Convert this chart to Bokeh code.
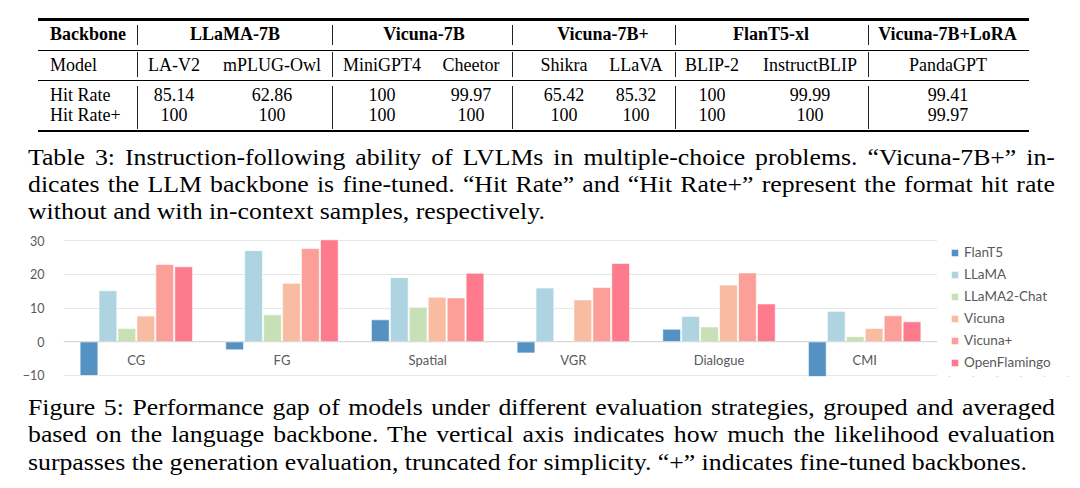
from bokeh.plotting import figure
from bokeh.models import (Range1d, FactorRange, FixedTicker, Legend, LegendItem,
                          Span, Div, ColumnDataSource)
from bokeh.layouts import column, row
from bokeh.transform import dodge
from bokeh.core.properties import value
from bokeh.embed import file_html
from bokeh.resources import INLINE

# ---------------- data ----------------
backbones = ["LLaMA-7B", "Vicuna-7B", "Vicuna-7B+", "FlanT5-xl", "Vicuna-7B+LoRA"]
models = ["LA-V2", "mPLUG-Owl", "MiniGPT4", "Cheetor", "Shikra", "LLaVA",
          "BLIP-2", "InstructBLIP", "PandaGPT"]
hit_rate = [85.14, 62.86, 100, 99.97, 65.42, 85.32, 100, 99.99, 99.41]
hit_rate_plus = [100, 100, 100, 100, 100, 100, 100, 100, 99.97]

categories = ["CG", "FG", "Spatial", "VGR", "Dialogue", "CMI"]
series_names = ["FlanT5", "LLaMA", "LLaMA2-Chat", "Vicuna", "Vicuna+", "OpenFlamingo"]
flant5 = [-10.0, -2.4, 6.5, -3.3, 3.7, -10.3]
llama = [15.1, 27.0, 19.0, 15.9, 7.5, 9.0]
llama2_chat = [3.9, 8.0, 10.2, float("nan"), 4.4, 1.5]
vicuna = [7.6, 17.3, 13.2, 12.4, 16.8, 3.9]
vicuna_plus = [22.9, 27.6, 13.0, 16.1, 20.4, 7.7]
openflamingo = [22.2, 30.2, 20.3, 23.2, 11.2, 5.9]
y_ticks = [-10, 0, 10, 20, 30]

caption1 = [
    "Table 3: Instruction-following ability of LVLMs in multiple-choice problems. \u201cVicuna-7B+\u201d in-",
    "dicates the LLM backbone is fine-tuned. \u201cHit Rate\u201d and \u201cHit Rate+\u201d represent the format hit rate",
    "without and with in-context samples, respectively.",
]
caption2 = [
    "Figure 5: Performance gap of models under different evaluation strategies, grouped and averaged",
    "based on the language backbone. The vertical axis indicates how much the likelihood evaluation",
    "surpasses the generation evaluation, truncated for simplicity. \u201c+\u201d indicates fine-tuned backbones.",
]

colors = ["#5592c4", "#aed4e2", "#c8e0b5", "#f8bca2", "#fc9f98", "#fe7b8e"]

W = 1080

# ---------------- table (HTML) ----------------
TH = 140
bb_x = [235, 424, 603, 771, 947.5]
col_x = [174, 272, 382, 471, 564, 636, 712, 810, 948]
y_head, y_model, y_hit, y_hitp = 40, 71, 101, 120.7
lab_x = 50
ASC = 15.1  # baseline offset from box top for 18px Liberation Serif, line-height 18px


def t(x, base, txt, center=True, bold=False):
    pos = f"left:{x}px;transform:translateX(-50%);" if center else f"left:{x}px;"
    fw = "bold" if bold else "normal"
    return (f'<div style="position:absolute;top:{base - ASC:.1f}px;{pos}white-space:nowrap;'
            f'font-weight:{fw};">{txt}</div>')


def rule(x, y, w, h, color="#000"):
    return (f'<div style="position:absolute;left:{x}px;top:{y:.1f}px;width:{w}px;height:{h}px;'
            f'background:{color};"></div>')


parts = [t(lab_x, y_head, "Backbone", center=False, bold=True)]
parts += [t(x, y_head, b, bold=True) for x, b in zip(bb_x, backbones)]
parts += [t(lab_x, y_model, "Model", center=False),
          t(lab_x, y_hit, "Hit Rate", center=False),
          t(lab_x, y_hitp, "Hit Rate+", center=False)]
parts += [t(x, y_model, m) for x, m in zip(col_x, models)]
parts += [t(x, y_hit, f"{v:g}") for x, v in zip(col_x, hit_rate)]
parts += [t(x, y_hitp, f"{v:g}") for x, v in zip(col_x, hit_rate_plus)]
rx0, rx1 = 38, 1029
parts += [rule(rx0, 18.4, rx1 - rx0, 2.3), rule(rx0, 49.5, rx1 - rx0, 1),
          rule(rx0, 80, rx1 - rx0, 1), rule(rx0, 129.9, rx1 - rx0, 2.3)]
for x in [137, 332, 512, 675, 868]:
    for (a, b) in [(25, 45), (52, 77), (86, 128.5)]:
        parts.append(rule(x - 0.5, a, 1, b - a, "#222"))
table_html = (f"<div style=\"position:relative;width:{W}px;height:{TH}px;overflow:hidden;"
              f"font-family:'Liberation Serif',serif;font-size:18px;line-height:18px;color:#000;\">"
              + "".join(parts) + "</div>")
table_div = Div(text=table_html, width=W, height=TH, margin=0)

SX = 1.073
FS = 24


def caption_div(lines, height, shift, lh):
    inner_w = 1027 / SX
    segs = []
    for i, ln in enumerate(lines):
        last = (i == len(lines) - 1)
        align = "text-align:left;" if last else "text-align:justify;text-align-last:justify;"
        segs.append(f'<div style="{align}white-space:nowrap;">{ln}</div>')
    html = (f'<div style="position:relative;width:{W}px;height:{height}px;overflow:hidden;">'
            f'<div style="position:absolute;left:28px;top:{shift}px;width:{inner_w:.1f}px;'
            f'transform:scaleX({SX});transform-origin:0 0;'
            f"font-family:'Liberation Serif',serif;font-size:{FS}px;line-height:{lh}px;color:#000;\">"
            + "".join(segs) + "</div></div>")
    return Div(text=html, width=W, height=height, margin=0)


div1 = caption_div(caption1, 88, 3.5, 27)

# ---------------- bar chart ----------------
CW = 63 + 874
CH = 160
p = figure(width=CW, height=CH, title=None, x_range=FactorRange(*categories),
           y_range=Range1d(-10.3, 30.3), toolbar_location=None, output_backend="svg",
           min_border_left=63, min_border_right=0, min_border_top=11, min_border_bottom=12,
           outline_line_color=None, margin=0)
p.xaxis.visible = False
p.xgrid.visible = False
p.ygrid.grid_line_color = "#e6e6e6"
p.ygrid.ticker = FixedTicker(ticks=y_ticks)
p.yaxis.ticker = FixedTicker(ticks=y_ticks)
p.yaxis.axis_line_color = None
p.yaxis.major_tick_line_color = None
p.yaxis.minor_tick_line_color = None
p.yaxis.major_label_standoff = 13
p.yaxis.major_label_text_font = "Lato"
p.yaxis.major_label_text_font_size = "12.5px"
p.yaxis.major_label_text_color = "#595959"
p.add_layout(Span(location=0, dimension="width", line_color="#d6d6d6", line_width=1))

src = ColumnDataSource(dict(cat=categories, FlanT5=flant5, LLaMA=llama,
                            LLaMA2_Chat=llama2_chat, Vicuna=vicuna,
                            Vicuna_plus=vicuna_plus, OpenFlamingo=openflamingo))
cols = ["FlanT5", "LLaMA", "LLaMA2_Chat", "Vicuna", "Vicuna_plus", "OpenFlamingo"]
slot = 0.13
for i, c in enumerate(cols):
    p.vbar(x=dodge("cat", (i - 2.5) * slot, range=p.x_range), top=c, bottom=0,
           width=0.122, source=src, fill_color=colors[i], line_color="white",
           line_alpha=0.6, line_width=1)

p.text(x=categories, y=[-5.5] * len(categories), text=categories, text_font=value("Lato"),
       text_font_size="13px", text_color="#595959", text_align="center", text_baseline="middle")

# ---------------- legend panel (separate small figure) ----------------
# same series drawn against an off-screen range so only the legend shows
lf = figure(width=W - CW, height=CH, title=None, x_range=FactorRange(*categories),
            y_range=Range1d(1000, 1001), x_axis_type=None, y_axis_type=None,
            toolbar_location=None, output_backend="svg",
            min_border_left=0, min_border_right=0, min_border_top=11, min_border_bottom=12,
            outline_line_color=None, margin=0)
lf.grid.visible = False
items = []
for i, (c, name) in enumerate(zip(cols, series_names)):
    r = lf.vbar(x="cat", top=c, bottom=0, width=0.1, source=src, fill_color=colors[i],
                line_color="white", line_alpha=0.6, line_width=1)
    items.append(LegendItem(label=name, renderers=[r]))
legend = Legend(items=items, location=(13, 4), glyph_width=9, glyph_height=9,
                label_standoff=5, spacing=2, padding=0, margin=0, label_height=20,
                border_line_color=None, background_fill_alpha=0,
                label_text_font="Lato", label_text_font_size="13.5px",
                label_text_color="#595959")
lf.add_layout(legend)

div2 = caption_div(caption2, 100, 5.5, 27.5)

layout = column(table_div, div1, row(p, lf, spacing=0), div2, spacing=0)
open("out.html", "w").write(file_html(layout, INLINE))
